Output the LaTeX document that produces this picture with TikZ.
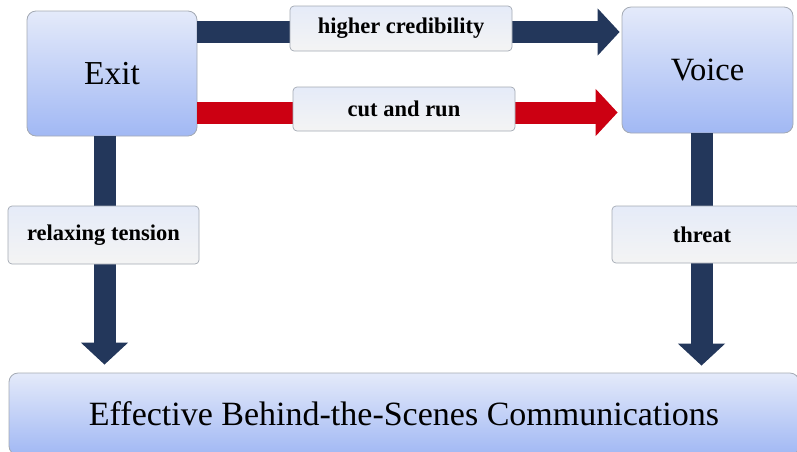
\documentclass[tikz,border=0pt]{standalone}
\usepackage{fontspec}
\setmainfont{Liberation Serif}
\usetikzlibrary{arrows.meta,calc}
\definecolor{navy}{HTML}{23375B}
\definecolor{redarr}{HTML}{CC0012}
\definecolor{boxtop}{HTML}{E4EAFA}
\definecolor{boxbot}{HTML}{A1B8F4}
\definecolor{lbltop}{HTML}{E5EBF8}
\definecolor{lblbot}{HTML}{F4F4F4}
\definecolor{bord}{HTML}{A3A9B3}
\begin{document}
\begin{tikzpicture}[x=1pt,y=-1pt,
 bigbox/.style={draw=bord, line width=0.8pt, rounded corners=9pt, top color=boxtop, bottom color=boxbot, inner sep=0pt, anchor=center},
 lbl/.style={draw=bord, line width=0.7pt, rounded corners=4pt, top color=lbltop, bottom color=lblbot, inner sep=0pt, anchor=center, font=\fontsize{22.5}{25}\selectfont\bfseries},
 fat/.style={line width=22pt, -{Triangle[length=22pt,width=46pt]}}
]
\useasboundingbox (0,0) rectangle (797,451);
\begin{scope}
\clip (0,0) rectangle (797,451);
\node[bigbox, minimum width=170pt, minimum height=125pt, font=\fontsize{33.5}{36}\selectfont] (exit) at (112,73.5) {Exit};
\node[bigbox, minimum width=171pt, minimum height=126pt, font=\fontsize{32.5}{36}\selectfont] (voice) at (707.5,70) {Voice};
\node[bigbox, minimum width=790pt, minimum height=82pt, font=\fontsize{34}{36}\selectfont] (comm) at (404,414) {Effective Behind-the-Scenes Communications};

\coordinate (a1) at ([yshift=41.5pt]exit.east);
\coordinate (a2) at ([yshift=-39pt]exit.east);
\coordinate (a3) at ([xshift=-7.5pt]exit.south);
\coordinate (a4) at ([xshift=-6pt]voice.south);
\draw[fat, navy, shorten >=2pt] (a1) -- (a1 -| voice.west);
\draw[fat, redarr, shorten >=4pt] (a2) -- (a2 -| voice.west);
\draw[fat, navy, shorten >=8pt] (a3) -- (a3 |- comm.north);
\draw[fat, navy, shorten >=7pt] (a4) -- (a4 |- comm.north);

\node[lbl, minimum width=222pt, minimum height=45pt] (hc) at (401,28.5) {higher credibility};
\node[lbl, minimum width=222pt, minimum height=44pt] (cr) at (404,109) {cut and run};
\node[lbl, minimum width=191pt, minimum height=58pt] (rt) at (103.5,235) {relaxing tension};
\node[lbl, minimum width=188pt, minimum height=57pt] (th) at (706,234.5) {\hspace*{-8pt}threat};
\end{scope}
\end{tikzpicture}
\end{document}
